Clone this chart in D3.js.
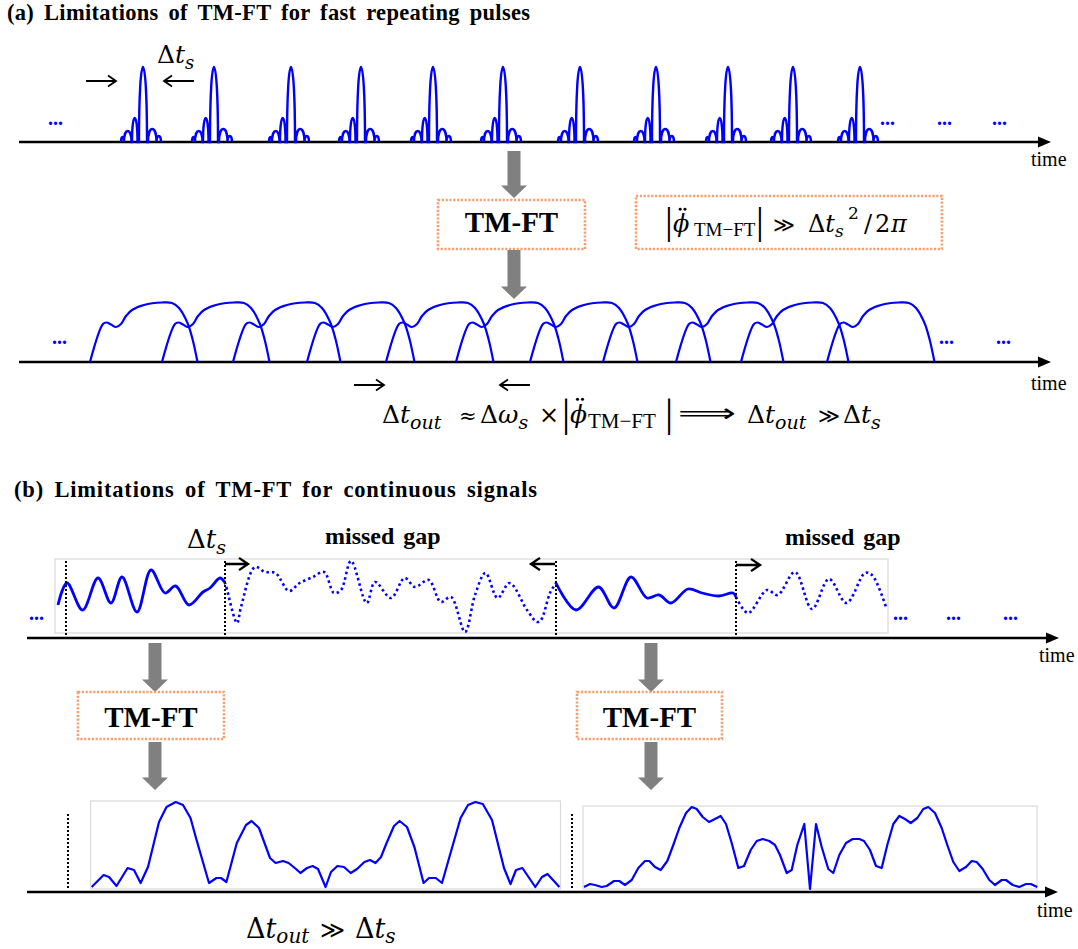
<!DOCTYPE html>
<html>
<head>
<meta charset="utf-8">
<script src="https://cdn.jsdelivr.net/npm/d3@7"></script>
<style>
  body { margin: 0; background: #fff; }
  svg { display: block; }
</style>
</head>
<body>
<svg id="fig" width="1078" height="949"></svg>
<script>
// ---------- data ----------
// (a) input: centre time of each short pulse in the train
const pulseCentres = [143, 214, 291, 361, 433, 503, 580, 656, 728, 793, 860];
// lobe structure of one short pulse: [start, end, height] relative to its centre
const pulseLobes = [[-22, -19, 5], [-19, -11.5, 11], [-11, -5.5, 24], [-4, 4, 75], [5, 13.5, 13], [13.5, 18, 6]];

// (a) output: start time of each stretched pulse after the TM-FT
const outStarts = [90, 162, 233, 307, 386, 456, 530, 603, 676, 741, 827];
// envelope of one stretched pulse: [time offset, amplitude]
const outShape = [[0, 0], [13, 38], [16.5, 39.5], [21, 37.5], [26, 35], [31, 38], [36, 46], [42, 52],
                  [54, 57], [72, 59.5], [82, 59], [89, 54], [97.5, 39], [102.5, 23], [107.5, 0]];

// (b) continuous input signal: captured windows (solid) and missed gaps (dotted)
const windowA = [[58, 33], [67, 55], [82.6, 28], [98, 60], [111, 35], [122, 61], [137, 26], [151, 68],
                 [165, 45], [175.6, 52], [189, 33], [203, 46], [210, 50], [220, 60], [224.5, 56]];
const gapA = [[224.5, 56], [226, 52], [237, 15], [241, 31], [255, 71], [265, 66], [275.5, 65], [289, 47],
              [299.6, 55], [313, 61], [324, 66], [334, 45], [341, 48], [351, 77], [366.7, 35], [375, 56],
              [391, 40], [404.6, 60], [415, 51], [428.7, 58], [440.8, 36], [451, 41], [465, 6], [475, 43],
              [485.5, 65], [497.6, 40], [509.6, 55], [527, 28], [537, 16], [541, 18], [550, 45], [556, 55]];
const windowB = [[556, 55], [576, 28], [598.5, 51], [614, 30], [631, 61], [647, 40], [659, 43], [671, 35],
                 [688, 49], [702, 45], [719, 42], [733, 45], [736, 41]];
const gapB = [[736, 41], [748, 25], [767, 48], [777.6, 43], [795, 66], [812, 29], [829, 59], [846.5, 35],
              [865, 65], [872, 63], [886, 31]];
const windowMarks = [66, 225, 556, 736];

// (b) outputs of the two TM-FT windows
const outputA = [[91.7, 5], [103.6, 17], [109, 15], [116.5, 6], [127.6, 24], [134, 22], [140.6, 9], [148, 25],
  [159, 70], [166.5, 85], [175.7, 90], [183, 87], [190.5, 74], [196, 54], [209, 9], [216.4, 14], [221, 14],
  [226.4, 10], [236.8, 49], [246, 67], [251.6, 71], [259, 64], [270, 34], [275.6, 29], [283, 31], [288.6, 29],
  [296, 23], [300.4, 19], [307, 24], [312.6, 26], [318, 23], [325.6, 5], [331, 20], [337.4, 26], [344, 25],
  [350.7, 19], [357, 23], [364.4, 30], [370, 32], [375.5, 29], [381, 35], [386.6, 49], [394, 66], [399.6, 71],
  [407, 65], [414.4, 45], [423.6, 9], [429, 14], [435.8, 14], [442, 9], [451.4, 42], [460.6, 74], [468, 87],
  [475.4, 90], [482.8, 88], [492, 72], [504, 24], [510.5, 8], [516, 22], [522.4, 24], [535.3, 5], [542, 15],
  [547.5, 18], [559.4, 5]];
const outputB = [[584, 5], [590, 8], [595, 7], [601.7, 5], [606.7, 6], [614, 11], [619.3, 11], [625, 7],
  [631.7, 12], [638.3, 24], [645, 31], [649.3, 31], [655, 25], [660.7, 22], [667.3, 31], [673.3, 47],
  [679.3, 64], [686, 79], [691.7, 85], [696.7, 83], [702.7, 75], [709, 70], [715, 73], [720.7, 76], [726, 68],
  [731.7, 49], [738.3, 24], [744, 26], [750.7, 42], [756.7, 51], [762.7, 53], [769.3, 51], [775, 47], [780, 37],
  [786.7, 19], [791.7, 22], [797.3, 47], [804.3, 68], [810, 3], [816, 68], [821.7, 45], [828.3, 23], [833.3, 19],
  [839.3, 37], [846, 49], [852.7, 53], [859.3, 53], [864, 51], [870, 42], [876, 26], [881.7, 24], [887.3, 47],
  [893.3, 68], [899.3, 76], [905, 73], [910.7, 69], [917.3, 74], [923.3, 83], [928.3, 85], [935, 79],
  [941.7, 64], [947.3, 47], [953.3, 30], [959.3, 21], [966, 25], [971.7, 31], [976.7, 30], [982.7, 23],
  [989.3, 12], [995, 7], [1001.7, 12], [1006, 12], [1012.7, 7], [1019.3, 5], [1026, 8], [1030.7, 8], [1037.3, 5]];
const outMarks = [68, 572];

// ---------- styles ----------
const BLUE = "#0000ff";
const GREY = "#808080";
const FRAME = "#d9d9d9";
const BOX = "#f4a070";
const SERIF = "'Liberation Serif', 'Times New Roman', serif";
const MATH = "'DejaVu Serif', serif";

const W = 1078, H = 949;
const svg = d3.select("#fig");
svg.append("rect").attr("width", W).attr("height", H).attr("fill", "#fff");

// time runs left to right on every axis
const x = d3.scaleLinear().domain([0, W]).range([0, W]);
const amp = base => d3.scaleLinear().domain([0, 100]).range([base, base - 100]);

// axis baselines
const yA1 = amp(142), yA2 = amp(362), yB1 = amp(638), yB2 = amp(892);

// ---------- helpers ----------
function timeAxis(y, x0, x1, lx, ly) {
  const g = svg.append("g");
  g.append("line").attr("x1", x0).attr("x2", x1 - 8).attr("y1", y).attr("y2", y)
    .attr("stroke", "#000").attr("stroke-width", 2.4);
  g.append("path").attr("d", `M${x1},${y}L${x1 - 13},${y - 5.5}L${x1 - 13},${y + 5.5}Z`).attr("fill", "#000");
  g.append("text").attr("x", lx).attr("y", ly).attr("font-family", SERIF).attr("font-size", 20)
    .attr("fill", "#000").text("time");
}

function greyArrow(cx, y0, y1) {
  const sw = 6.5, hw = 13, hl = 12.5;
  const p = d3.path();
  p.moveTo(cx - sw, y0); p.lineTo(cx + sw, y0); p.lineTo(cx + sw, y1 - hl); p.lineTo(cx + hw, y1 - hl);
  p.lineTo(cx, y1); p.lineTo(cx - hw, y1 - hl); p.lineTo(cx - sw, y1 - hl); p.closePath();
  svg.append("path").attr("d", p.toString()).attr("fill", GREY);
}

function dottedBox(x0, y0, x1, y1) {
  svg.append("rect").attr("x", x0).attr("y", y0).attr("width", x1 - x0).attr("height", y1 - y0)
    .attr("fill", "none").attr("stroke", BOX).attr("stroke-width", 2.6).attr("stroke-dasharray", "2.2 1.6");
}

function boxLabel(cx, y, str) {
  svg.append("text").attr("x", cx).attr("y", y).attr("text-anchor", "middle").attr("font-family", SERIF)
    .attr("font-weight", "bold").attr("font-size", 29).attr("fill", "#000").text(str);
}

function thinArrow(xFrom, xTo, y, w, head) {
  const d = Math.sign(xTo - xFrom);
  svg.append("path")
    .attr("d", `M${xFrom},${y}H${xTo}M${xTo - d * head},${y - head * 0.68}L${xTo},${y}L${xTo - d * head},${y + head * 0.68}`)
    .attr("fill", "none").attr("stroke", "#000").attr("stroke-width", w).attr("stroke-linejoin", "miter");
}

function dots(xp, y, size) {
  svg.append("text").attr("x", xp).attr("y", y).attr("font-family", SERIF).attr("font-weight", "bold")
    .attr("font-size", size || 20).attr("fill", BLUE).text("...");
}

// parts: {s, x, y, size, it, fam, len}; a part without x continues where the previous one ended
function mathText(parts) {
  const t = svg.append("text").attr("fill", "#000");
  parts.forEach(p => {
    const ts = t.append("tspan").attr("y", p.y).attr("font-size", p.size)
      .attr("font-style", p.it ? "italic" : "normal").attr("font-family", p.fam || MATH).text(p.s);
    if (p.x !== undefined) ts.attr("x", p.x);
    if (p.len !== undefined) ts.attr("textLength", p.len).attr("lengthAdjust", "spacingAndGlyphs");
  });
  return t;
}

// parts of a |φ̈_TM−FT| group: bars, phi, upright subscript; the two
// second-derivative dots above phi are added as small discs
function phiParts(x0, base, size, subX, subSize, x1) {
  const barSize = size * 1.62;
  const phiX = x0 + 8, cx = phiX + size * 0.4, cy = base - size * 0.95;
  [-1, 1].forEach(k => svg.append("circle").attr("cx", cx + k * size * 0.1).attr("cy", cy)
    .attr("r", size * 0.062).attr("fill", "#000"));
  return [
    { s: "|", x: x0, y: base + size * 0.1, size: barSize, fam: SERIF },
    { s: "ϕ", x: phiX, y: base, size: size, it: true },
    { s: "TM−FT", x: subX, y: base + size * 0.18, size: subSize, fam: SERIF },
    { s: "|", x: x1, y: base + size * 0.1, size: barSize, fam: SERIF }
  ];
}

function frame(x0, y0, x1, y1) {
  svg.append("rect").attr("x", x0).attr("y", y0).attr("width", x1 - x0).attr("height", y1 - y0)
    .attr("fill", "none").attr("stroke", FRAME).attr("stroke-width", 1.2);
}

function vMark(xp, y0, y1) {
  svg.append("line").attr("x1", x(xp)).attr("x2", x(xp)).attr("y1", y0).attr("y2", y1)
    .attr("stroke", "#000").attr("stroke-width", 2).attr("stroke-dasharray", "2 2");
}

function title(x0, y, str) {
  svg.append("text").attr("x", x0).attr("y", y).attr("font-family", SERIF).attr("font-weight", "bold")
    .attr("font-size", 22.5).attr("word-spacing", 4).attr("textLength", 523).attr("lengthAdjust", "spacing")
    .attr("fill", "#000").text(str);
}

// ---------- (a) fast repeating pulses ----------
title(7, 19.5, "(a) Limitations of TM-FT for fast repeating pulses");

timeAxis(yA1(0), 19, 1051, 1031, 166);

// short input pulses, each lobe an arch standing on the axis
pulseCentres.forEach(c => {
  const p = d3.path();
  pulseLobes.forEach(([a, b, h], i) => {
    const xa = x(c + a), xb = x(c + b), ytop = yA1(h * 4 / 3), y0 = yA1(0);
    if (i === 0) p.moveTo(xa, y0); else p.lineTo(xa, y0);
    p.bezierCurveTo(xa, ytop, xb, ytop, xb, y0);
  });
  svg.append("path").attr("d", p.toString()).attr("fill", "none").attr("stroke", BLUE)
    .attr("stroke-width", 2.4);
});

dots(48, 125); dots(880, 125); dots(937, 125); dots(992, 125);

thinArrow(86, 116, 81, 1.8, 8);
thinArrow(194, 164, 81, 1.8, 8);
mathText([{ s: "Δ", x: 157, y: 63, size: 25 }, { s: "t", y: 63, size: 25, it: true },
          { s: "s", y: 69, size: 18, it: true }]);

greyArrow(514, 151, 198);
dottedBox(438, 200, 585, 249);
boxLabel(511.5, 232, "TM-FT");
greyArrow(514, 250, 299);

dottedBox(636, 196, 942, 249);
mathText(phiParts(665, 232, 24, 694, 19, 756).concat([
  { s: "≫", x: 773, y: 232, size: 21 },
  { s: "Δ", x: 808, y: 232, size: 24 }, { s: "t", y: 232, size: 24, it: true },
  { s: "s", y: 237, size: 17, it: true }, { s: "2", x: 848, y: 219, size: 17 },
  { s: "/", x: 864, y: 232, size: 24 }, { s: "2", x: 875, y: 232, size: 24 }, { s: "π", x: 891, y: 232, size: 24, it: true }
]));

timeAxis(yA2(0), 19, 1051, 1031, 390);

// stretched output pulses
const outLine = d3.line().x(d => x(d[0])).y(d => yA2(d[1])).curve(d3.curveCatmullRom.alpha(0.5));
outStarts.forEach(s => {
  svg.append("path").attr("d", outLine(outShape.map(([dt, v]) => [s + dt, v])))
    .attr("fill", "none").attr("stroke", BLUE).attr("stroke-width", 2.2);
});
dots(52, 344); dots(939, 344); dots(996, 344);

thinArrow(354, 384, 385, 1.8, 8);
thinArrow(530, 500, 385, 1.8, 8);
mathText([
  { s: "Δ", x: 382, y: 423, size: 25 }, { s: "t", y: 423, size: 25, it: true }, { s: "out", y: 429, size: 19, it: true },
  { s: "≈", x: 459, y: 423, size: 21 },
  { s: "Δ", x: 480, y: 423, size: 25 }, { s: "ω", y: 423, size: 25, it: true }, { s: "s", y: 429, size: 19, it: true },
  { s: "×", x: 539, y: 423, size: 24 }
].concat(phiParts(562, 423, 25, 588, 21, 665)).concat([
  { s: "⟹", x: 678, y: 422, size: 26, fam: "'DejaVu Sans', sans-serif", len: 58 },
  { s: "Δ", x: 747, y: 423, size: 25 }, { s: "t", y: 423, size: 25, it: true }, { s: "out", y: 429, size: 19, it: true },
  { s: "≫", x: 818, y: 423, size: 21 },
  { s: "Δ", x: 843, y: 423, size: 25 }, { s: "t", y: 423, size: 25, it: true }, { s: "s", y: 429, size: 19, it: true }
]));

// ---------- (b) continuous signals ----------
title(14, 497, "(b) Limitations of TM-FT for continuous signals");

frame(55, 559, 888, 633);
timeAxis(yB1(0), 27, 1059, 1039, 662);

const sigLine = d3.line().x(d => x(d[0])).y(d => yB1(d[1])).curve(d3.curveCatmullRom.alpha(0.5));
[windowA, windowB].forEach(seg => svg.append("path").attr("d", sigLine(seg)).attr("fill", "none")
  .attr("stroke", BLUE).attr("stroke-width", 2.8));
[gapA, gapB].forEach(seg => svg.append("path").attr("d", sigLine(seg)).attr("fill", "none")
  .attr("stroke", BLUE).attr("stroke-width", 2.6).attr("stroke-dasharray", "2.5 3"));

windowMarks.forEach(m => vMark(m, 561, 638));
thinArrow(225, 248, 564, 2.4, 9);
thinArrow(555, 531, 564, 2.4, 9);
thinArrow(736, 760, 565, 2.4, 9);

mathText([{ s: "Δ", x: 187, y: 548, size: 26 }, { s: "t", y: 548, size: 26, it: true },
          { s: "s", y: 554, size: 19, it: true }]);
svg.append("text").attr("x", 325).attr("y", 544).attr("font-family", SERIF).attr("font-weight", "bold")
  .attr("font-size", 24).attr("word-spacing", 3).text("missed gap");
svg.append("text").attr("x", 785).attr("y", 545).attr("font-family", SERIF).attr("font-weight", "bold")
  .attr("font-size", 24).attr("word-spacing", 3).text("missed gap");
dots(29, 620); dots(893, 620); dots(946, 620); dots(1003, 620);

greyArrow(155, 643, 692);
dottedBox(78, 692, 224, 739);
boxLabel(151, 727, "TM-FT");
greyArrow(155, 742, 790);

greyArrow(651, 643, 692);
dottedBox(577, 692, 722, 739);
boxLabel(649.5, 727, "TM-FT");
greyArrow(651, 742, 790);

frame(90.6, 801, 560.5, 889);
frame(583, 806, 1037, 889);
timeAxis(yB2(0), 27, 1058, 1037, 917);
outMarks.forEach(m => vMark(m, 814, 890));

const outBLine = d3.line().x(d => x(d[0])).y(d => yB2(d[1]));
[outputA, outputB].forEach(seg => svg.append("path").attr("d", outBLine(seg)).attr("fill", "none")
  .attr("stroke", BLUE).attr("stroke-width", 2.2).attr("stroke-linejoin", "round"));

mathText([
  { s: "Δ", x: 246, y: 938, size: 27 }, { s: "t", y: 938, size: 27, it: true }, { s: "out", y: 943, size: 20, it: true },
  { s: "≫", x: 320, y: 938, size: 24 },
  { s: "Δ", x: 355, y: 938, size: 27 }, { s: "t", y: 938, size: 27, it: true }, { s: "s", y: 943, size: 20, it: true }
]);
</script>
</body>
</html>
